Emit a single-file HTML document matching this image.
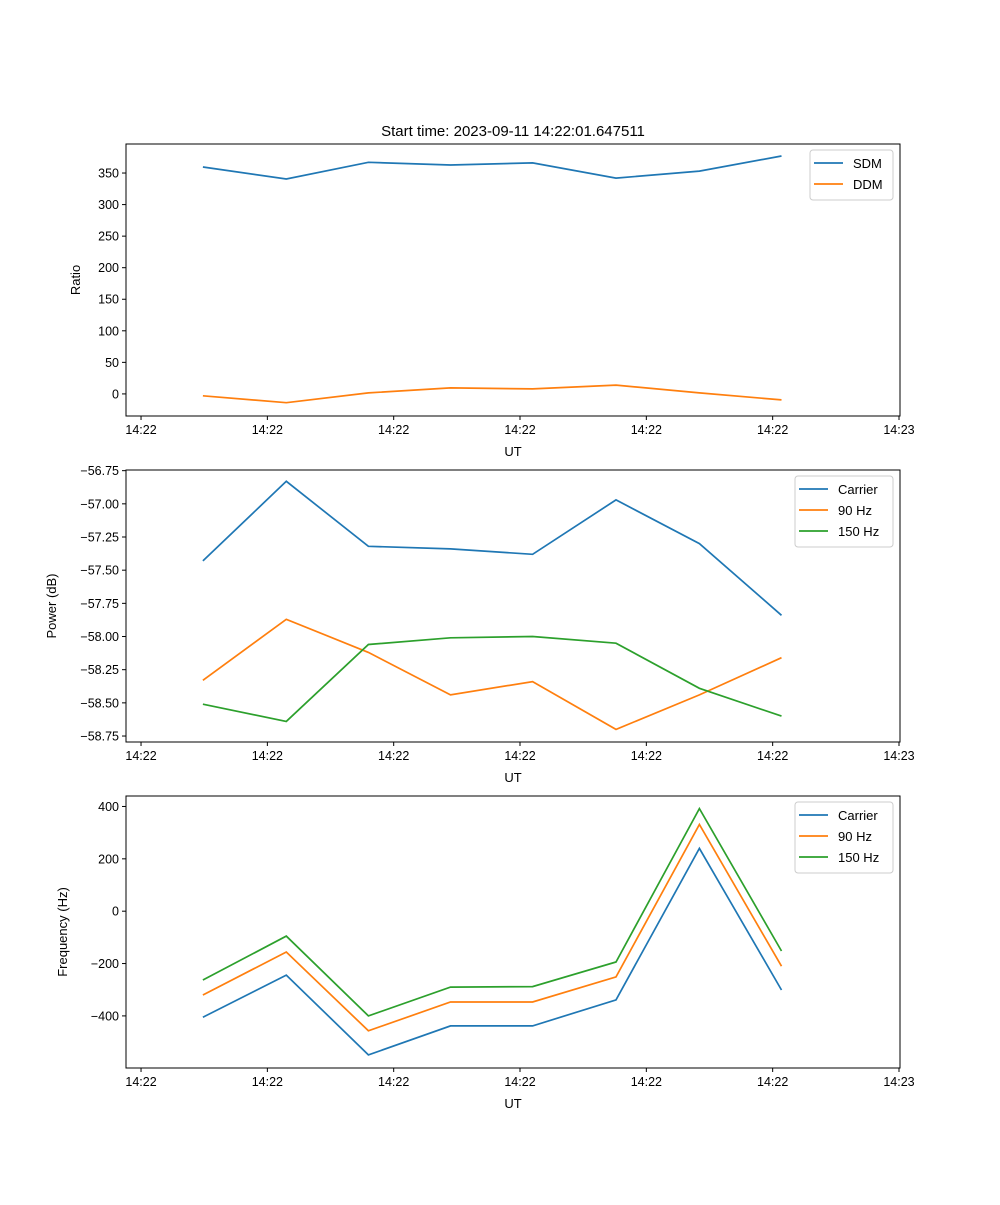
<!DOCTYPE html>
<html><head><meta charset="utf-8"><style>
html,body{margin:0;padding:0;background:#fff;}
svg text{font-family:"Liberation Sans","DejaVu Sans",sans-serif;}
</style></head><body>
<svg id="fig" width="1000" height="1200" xmlns="http://www.w3.org/2000/svg">
<rect width="1000" height="1200" fill="#fff"/>
<text x="513" y="136" font-size="15" text-anchor="middle">Start time: 2023-09-11 14:22:01.647511</text>
</svg>
<script>
// times in seconds after 14:22:00
const times = [4.9, 11.5, 18.0, 24.5, 31.0, 37.6, 44.2, 50.7];
const xTicks = [0, 10, 20, 30, 40, 50, 60];
const xTickLabels = ["14:22","14:22","14:22","14:22","14:22","14:22","14:23"];
const sdm = [359.5, 340.5, 367, 362.7, 366, 342, 353, 377];
const ddm = [-3, -14, 1.6, 9.5, 8, 14, 1.6, -9.5];
const ratioTicks = [0, 50, 100, 150, 200, 250, 300, 350];
const powerCarrier = [-57.43, -56.83, -57.32, -57.34, -57.38, -56.97, -57.30, -57.84];
const power90 = [-58.33, -57.87, -58.12, -58.44, -58.34, -58.70, -58.44, -58.16];
const power150 = [-58.51, -58.64, -58.06, -58.01, -58.00, -58.05, -58.39, -58.60];
const powerTicks = [-56.75, -57.00, -57.25, -57.50, -57.75, -58.00, -58.25, -58.50, -58.75];
const freqCarrier = [-405, -244, -549, -438, -438, -339, 240, -301];
const freq90 = [-320, -156, -457, -347, -347, -251, 331, -210];
const freq150 = [-263, -95, -400, -290, -288, -194, 392, -152];
const freqTicks = [-400, -200, 0, 200, 400];

const NS = "http://www.w3.org/2000/svg";
const svg = document.getElementById('fig');
const L = 126, R = 900, xMin = -1.19, xMax = 60.08;
function xs(t){ return L + (t - xMin) / (xMax - xMin) * (R - L); }
function mk(tag, attrs, parent){
  const e = document.createElementNS(NS, tag);
  for (const k in attrs) e.setAttribute(k, attrs[k]);
  (parent || svg).appendChild(e);
  return e;
}
const C = {blue:"#1f77b4", orange:"#ff7f0e", green:"#2ca02c"};

function panel(cfg){
  const g = mk('g', {});
  
  
  const T = cfg.top, B = cfg.bottom;
  const ys = v => B - (v - cfg.yMin) / (cfg.yMax - cfg.yMin) * (B - T);
  cfg.series.forEach(s => {
    const pts = s.values.map((v, i) => xs(times[i]).toFixed(1) + "," + ys(v).toFixed(1)).join(" ");
    const pl = mk('polyline', {points: pts, fill: "none", stroke: s.color, "stroke-width": 1.7}, g);
    
    
  });
  const fr = mk('rect', {x: L, y: T, width: R - L, height: B - T, fill: "none", stroke: "#000", "stroke-width": 1}, g);
  
  
  xTicks.forEach((t, i) => {
    const x = xs(t);
    mk('line', {x1: x, y1: B, x2: x, y2: B + 4, stroke: "#000", "stroke-width": 1}, g);
    const tx = mk('text', {x: x, y: B + 18, "font-size": 12.5, "text-anchor": "middle"}, g);
    tx.textContent = xTickLabels[i];
    
    
  });
  const xl = mk('text', {x: 513, y: B + 40, "font-size": 13, "text-anchor": "middle"}, g);
  xl.textContent = "UT";
  
  
  cfg.ticks.forEach(v => {
    const y = ys(v);
    mk('line', {x1: L - 4, y1: y, x2: L, y2: y, stroke: "#000", "stroke-width": 1}, g);
    const tx = mk('text', {x: L - 7, y: y + 4.5, "font-size": 12.5, "text-anchor": "end"}, g);
    tx.textContent = cfg.fmt(v);
    
    
  });
  const yl = mk('text', {x: 0, y: 0, "font-size": 13, "text-anchor": "middle", transform: `translate(${cfg.ylx},${(T + B) / 2}) rotate(-90)`}, g);
  yl.textContent = cfg.ylabel;
  
  
  const lg = mk('g', {}, g);
  
  
  const lw = cfg.legendW, lx = R - 7 - lw, ly = T + 6;
  mk('rect', {x: lx, y: ly, width: lw, height: 8 + 21 * cfg.series.length, rx: 3, fill: "#fff", "fill-opacity": 0.8, stroke: "#ccc"}, lg);
  cfg.series.forEach((s, i) => {
    const yy = ly + 13 + 21 * i;
    mk('line', {x1: lx + 4, y1: yy, x2: lx + 33, y2: yy, stroke: s.color, "stroke-width": 1.7}, lg);
    const tx = mk('text', {x: lx + 43, y: yy + 5, "font-size": 13}, lg);
    tx.textContent = s.label;
    
    
  });
}
const minus = s => s.replace('-', '\u2212');
panel({name: "ratio-panel", top: 144, bottom: 416, yMin: -35, yMax: 396, ticks: ratioTicks,
  fmt: v => minus(String(v)), ylabel: "Ratio", ylx: 80, legendW: 83,
  series: [{id: "sdm", label: "SDM", values: sdm, color: C.blue}, {id: "ddm", label: "DDM", values: ddm, color: C.orange}]});
panel({name: "power-panel", top: 470, bottom: 742, yMin: -58.795, yMax: -56.745, ticks: powerTicks,
  fmt: v => minus(v.toFixed(2)), ylabel: "Power (dB)", ylx: 56, legendW: 98,
  series: [{id: "power-carrier", label: "Carrier", values: powerCarrier, color: C.blue},
           {id: "power-90hz", label: "90 Hz", values: power90, color: C.orange},
           {id: "power-150hz", label: "150 Hz", values: power150, color: C.green}]});
panel({name: "frequency-panel", top: 796, bottom: 1068, yMin: -599, yMax: 440, ticks: freqTicks,
  fmt: v => minus(String(v)), ylabel: "Frequency (Hz)", ylx: 67, legendW: 98,
  series: [{id: "freq-carrier", label: "Carrier", values: freqCarrier, color: C.blue},
           {id: "freq-90hz", label: "90 Hz", values: freq90, color: C.orange},
           {id: "freq-150hz", label: "150 Hz", values: freq150, color: C.green}]});
</script>
</body></html>
